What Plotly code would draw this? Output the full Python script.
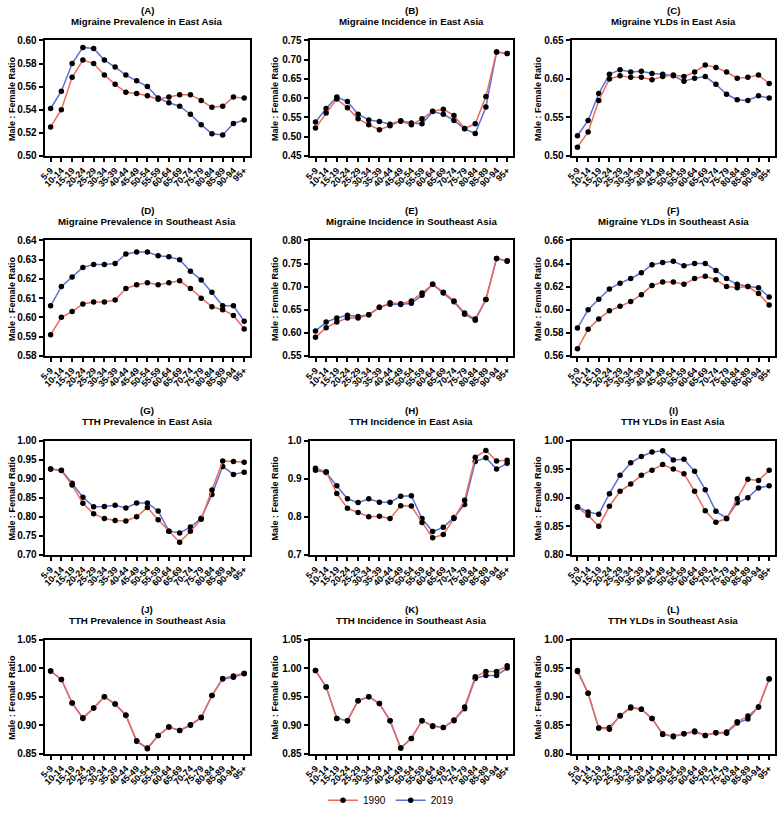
import plotly.graph_objects as go

age_groups = ["5-9", "10-14", "15-19", "20-24", "25-29", "30-34", "35-39", "40-44", "45-49",
              "50-54", "55-59", "60-64", "65-69", "70-74", "75-79", "80-84", "85-89", "90-94", "95+"]

# Panel titles
panel_letters = ["(A)", "(B)", "(C)", "(D)", "(E)", "(F)", "(G)", "(H)", "(I)", "(J)", "(K)", "(L)"]
panel_titles = ["Migraine Prevalence in East Asia", "Migraine Incidence in East Asia", "Migraine YLDs in East Asia",
                "Migraine Prevalence in Southeast Asia", "Migraine Incidence in Southeast Asia", "Migraine YLDs in Southeast Asia",
                "TTH Prevalence in East Asia", "TTH Incidence in East Asia", "TTH YLDs in East Asia",
                "TTH Prevalence in Southeast Asia", "TTH Incidence in Southeast Asia", "TTH YLDs in Southeast Asia"]

# 1990 series
a_1990 = [0.525, 0.540, 0.568, 0.583, 0.580, 0.570, 0.562, 0.555, 0.554, 0.552, 0.549, 0.551, 0.553, 0.553, 0.548, 0.542, 0.543, 0.551, 0.550]
b_1990 = [0.522, 0.561, 0.598, 0.575, 0.546, 0.531, 0.518, 0.528, 0.540, 0.531, 0.546, 0.566, 0.571, 0.555, 0.521, 0.533, 0.604, 0.720, 0.716]
c_1990 = [0.511, 0.531, 0.572, 0.600, 0.604, 0.602, 0.602, 0.599, 0.603, 0.605, 0.603, 0.609, 0.618, 0.615, 0.609, 0.601, 0.602, 0.605, 0.594]
d_1990 = [0.591, 0.600, 0.603, 0.607, 0.608, 0.608, 0.609, 0.615, 0.617, 0.618, 0.617, 0.618, 0.619, 0.615, 0.610, 0.6055, 0.604, 0.601, 0.594]
e_1990 = [0.590, 0.611, 0.623, 0.632, 0.632, 0.639, 0.655, 0.665, 0.663, 0.669, 0.686, 0.705, 0.688, 0.669, 0.643, 0.630, 0.672, 0.761, 0.756]
f_1990 = [0.566, 0.583, 0.592, 0.599, 0.603, 0.607, 0.613, 0.621, 0.624, 0.624, 0.622, 0.627, 0.629, 0.626, 0.620, 0.619, 0.620, 0.614, 0.604]
g_1990 = [0.925, 0.921, 0.883, 0.835, 0.808, 0.795, 0.790, 0.789, 0.800, 0.824, 0.792, 0.762, 0.733, 0.762, 0.793, 0.870, 0.946, 0.945, 0.943]
h_1990 = [0.927, 0.918, 0.861, 0.822, 0.811, 0.800, 0.801, 0.795, 0.829, 0.828, 0.785, 0.745, 0.753, 0.795, 0.843, 0.956, 0.974, 0.946, 0.948]
i_1990 = [0.883, 0.869, 0.850, 0.885, 0.911, 0.924, 0.939, 0.948, 0.958, 0.950, 0.942, 0.911, 0.877, 0.857, 0.863, 0.898, 0.932, 0.930, 0.948]
j_1990 = [0.995, 0.980, 0.939, 0.913, 0.930, 0.950, 0.937, 0.918, 0.873, 0.860, 0.882, 0.897, 0.891, 0.901, 0.914, 0.952, 0.982, 0.986, 0.991]
k_1990 = [0.996, 0.967, 0.912, 0.908, 0.943, 0.950, 0.938, 0.908, 0.860, 0.877, 0.908, 0.898, 0.896, 0.909, 0.932, 0.985, 0.994, 0.994, 1.004]
l_1990 = [0.944, 0.906, 0.845, 0.843, 0.867, 0.880, 0.878, 0.862, 0.835, 0.830, 0.835, 0.838, 0.832, 0.837, 0.838, 0.856, 0.866, 0.882, 0.931]

# 2019 series
a_2019 = [0.541, 0.556, 0.580, 0.594, 0.593, 0.583, 0.577, 0.570, 0.565, 0.560, 0.550, 0.546, 0.543, 0.536, 0.527, 0.519, 0.518, 0.528, 0.531]
b_2019 = [0.538, 0.573, 0.603, 0.591, 0.558, 0.543, 0.539, 0.532, 0.541, 0.535, 0.533, 0.565, 0.558, 0.542, 0.520, 0.508, 0.577, 0.720, 0.716]
c_2019 = [0.526, 0.546, 0.581, 0.606, 0.612, 0.609, 0.610, 0.607, 0.606, 0.604, 0.597, 0.601, 0.603, 0.593, 0.580, 0.573, 0.572, 0.578, 0.575]
d_2019 = [0.606, 0.616, 0.621, 0.626, 0.6275, 0.6275, 0.628, 0.633, 0.634, 0.634, 0.632, 0.6315, 0.630, 0.624, 0.6195, 0.613, 0.606, 0.606, 0.598]
e_2019 = [0.604, 0.623, 0.632, 0.638, 0.635, 0.639, 0.655, 0.662, 0.661, 0.664, 0.681, 0.705, 0.686, 0.667, 0.640, 0.627, 0.672, 0.761, 0.755]
f_2019 = [0.584, 0.600, 0.609, 0.618, 0.623, 0.627, 0.632, 0.639, 0.641, 0.642, 0.638, 0.640, 0.640, 0.634, 0.627, 0.622, 0.620, 0.619, 0.611]
g_2019 = [0.925, 0.922, 0.888, 0.851, 0.826, 0.827, 0.830, 0.823, 0.836, 0.836, 0.815, 0.762, 0.757, 0.773, 0.796, 0.858, 0.932, 0.911, 0.917]
h_2019 = [0.922, 0.916, 0.881, 0.847, 0.837, 0.847, 0.838, 0.838, 0.854, 0.855, 0.795, 0.761, 0.772, 0.798, 0.832, 0.945, 0.955, 0.925, 0.940]
i_2019 = [0.884, 0.875, 0.871, 0.907, 0.939, 0.961, 0.972, 0.980, 0.982, 0.966, 0.967, 0.946, 0.914, 0.876, 0.864, 0.891, 0.900, 0.917, 0.921]
j_2019 = [0.995, 0.980, 0.939, 0.912, 0.930, 0.950, 0.937, 0.917, 0.872, 0.859, 0.882, 0.897, 0.891, 0.900, 0.913, 0.952, 0.981, 0.984, 0.990]
k_2019 = [0.996, 0.967, 0.912, 0.908, 0.943, 0.950, 0.938, 0.908, 0.860, 0.877, 0.908, 0.899, 0.896, 0.908, 0.929, 0.982, 0.987, 0.987, 1.000]
l_2019 = [0.946, 0.906, 0.845, 0.846, 0.866, 0.882, 0.878, 0.862, 0.834, 0.831, 0.835, 0.840, 0.832, 0.837, 0.836, 0.854, 0.861, 0.882, 0.931]

series_1990 = [a_1990, b_1990, c_1990, d_1990, e_1990, f_1990, g_1990, h_1990, i_1990, j_1990, k_1990, l_1990]
series_2019 = [a_2019, b_2019, c_2019, d_2019, e_2019, f_2019, g_2019, h_2019, i_2019, j_2019, k_2019, l_2019]

# y-axis ranges and tick steps
y_ranges = [(0.50, 0.60), (0.45, 0.75), (0.50, 0.65),
            (0.58, 0.64), (0.55, 0.80), (0.56, 0.66),
            (0.70, 1.00), (0.70, 1.00), (0.80, 1.00),
            (0.85, 1.05), (0.85, 1.05), (0.80, 1.00)]
y_steps = [0.02, 0.05, 0.05, 0.01, 0.05, 0.02, 0.05, 0.1, 0.05, 0.05, 0.05, 0.05]
y_formats = [".2f"] * 7 + [".1f"] + [".2f"] * 4

W, H = 778, 815
col_px = [(39, 246), (306, 511), (570, 775)]
row_px = [(35, 152), (238, 355), (441, 557), (643, 759)]
ylab_x = [6, 271, 536]

RED = "#EF6A5C"
BLUE = "#5C70D6"
FONT = "Arial, Liberation Sans, sans-serif"

fig = go.Figure()
annotations = []
x_idx = list(range(len(age_groups)))

for p in range(12):
    r, c = divmod(p, 3)
    n = p + 1
    xa = "x" if n == 1 else f"x{n}"
    ya = "y" if n == 1 else f"y{n}"
    for name, data, color, rank in [("2019", series_2019[p], BLUE, 2), ("1990", series_1990[p], RED, 1)]:
        fig.add_trace(go.Scatter(
            x=x_idx, y=data, mode="lines+markers", name=name,
            line=dict(color=color, width=1.5),
            marker=dict(color="black", size=5.5),
            xaxis=xa, yaxis=ya, showlegend=(p == 0), legendrank=rank,
            cliponaxis=False,
        ))
    x0, x1 = col_px[c]
    y0, y1 = row_px[r]
    dom_x = [x0 / W, x1 / W]
    dom_y = [1 - y1 / H, 1 - y0 / H]
    lo, hi = y_ranges[p]
    nt = int(round((hi - lo) / y_steps[p]))
    tickvals = [round(lo + k * y_steps[p], 4) for k in range(nt + 1)]
    fig.layout[f"xaxis{'' if n == 1 else n}"] = dict(
        domain=dom_x, anchor=ya, range=[-0.55, 18.55],
        tickmode="array", tickvals=x_idx, ticktext=age_groups, tickangle=-45,
        tickfont=dict(family=FONT, size=9, color="black", weight="bold"),
        showline=True, linecolor="black", linewidth=2, mirror=True,
        ticks="outside", ticklen=4, tickwidth=1.5, tickcolor="black",
        showgrid=False, zeroline=False,
    )
    fig.layout[f"yaxis{'' if n == 1 else n}"] = dict(
        domain=dom_y, anchor=xa, range=[lo, hi],
        tickmode="array", tickvals=tickvals,
        ticktext=[format(v, y_formats[p]) for v in tickvals],
        tickfont=dict(family=FONT, size=10, color="black", weight="bold"),
        showline=True, linecolor="black", linewidth=2, mirror=True,
        ticks="outside", ticklen=4, tickwidth=1.5, tickcolor="black",
        showgrid=False, zeroline=False,
    )
    cx = (x0 + x1) / 2 / W
    annotations.append(dict(text=panel_letters[p], x=cx, y=1 - (y0 - 30) / H,
                            xref="paper", yref="paper", showarrow=False,
                            xanchor="center", yanchor="middle",
                            font=dict(family=FONT, size=9.7, color="black", weight="bold")))
    annotations.append(dict(text=panel_titles[p], x=cx, y=1 - (y0 - 19) / H,
                            xref="paper", yref="paper", showarrow=False,
                            xanchor="center", yanchor="middle",
                            font=dict(family=FONT, size=9.7, color="black", weight="bold")))
    annotations.append(dict(text="Male : Female Ratio", x=ylab_x[c] / W, y=1 - (y0 + y1) / 2 / H,
                            xref="paper", yref="paper", showarrow=False, textangle=-90,
                            xanchor="center", yanchor="middle",
                            font=dict(family=FONT, size=9, color="black", weight="bold")))

fig.update_layout(
    width=W, height=H,
    margin=dict(l=0, r=0, t=0, b=0),
    paper_bgcolor="white", plot_bgcolor="white",
    annotations=annotations,
    showlegend=True,
    legend=dict(orientation="h", x=388 / W, y=1 - 806 / H, xanchor="center", yanchor="middle",
                font=dict(family=FONT, size=10, color="black"), itemwidth=30),
)

fig.write_html(
    "out.html",
    config={"displayModeBar": False},
    post_script="document.body.style.margin='0';document.body.style.padding='0';"
                "document.documentElement.style.overflow='hidden';",
)
